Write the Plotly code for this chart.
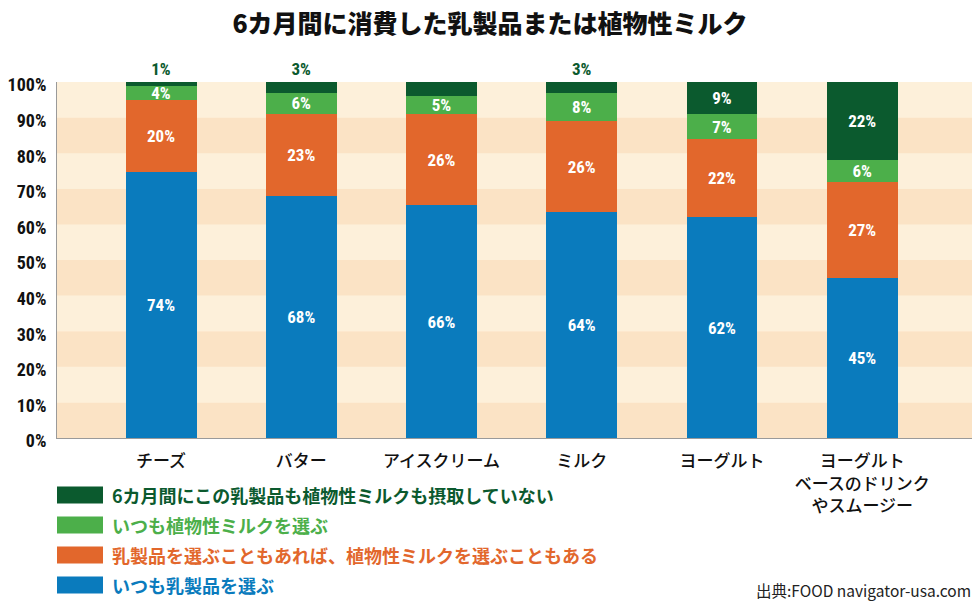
import plotly.graph_objects as go

# ---- data ----
categories = ["チーズ", "バター", "アイスクリーム", "ミルク", "ヨーグルト",
              "ヨーグルト<br>ベースのドリンク<br>やスムージー"]
always_dairy = [74, 68, 66, 64, 62, 45]
sometimes_both = [20, 23, 26, 26, 22, 27]
always_plant = [4, 6, 5, 8, 7, 6]
neither = [1, 3, 4, 3, 9, 22]

series_names = [
    "いつも乳製品を選ぶ",
    "乳製品を選ぶこともあれば、植物性ミルクを選ぶこともある",
    "いつも植物性ミルクを選ぶ",
    "6カ月間にこの乳製品も植物性ミルクも摂取していない",
]
series_values = [always_dairy, sometimes_both, always_plant, neither]
series_colors = ["#0a7bbd", "#e2672c", "#4caf4a", "#0b5a2e"]

y_ticks = list(range(0, 101, 10))
y_tick_labels = [f"{t}%" for t in y_ticks]

title = "6カ月間に消費した乳製品または植物性ミルク"
source = "出典:FOOD navigator-usa.com"

# ---- figure ----
totals = [sum(v) for v in zip(*series_values)]
NUM_FONT = "Liberation Sans Narrow, Roboto Condensed, Roboto, Arial Narrow, sans-serif"
JP_FONT = "Noto Sans CJK JP, sans-serif"

# page body has an 8px margin: work in reference pixel coordinates, shift by OFF
OFF = 8
FIG_W, FIG_H = 980 - OFF, 612 - OFF
L, T, R, B = 57, 82, 973, 438   # plot area in reference pixels
H = B - T
W = R - L

def px(x):
    return (x - L) / W

def py(y):
    return (B - y) / H

fig = go.Figure()
for name, vals, col in zip(series_names, series_values, series_colors):
    scaled = [v / t * 100 for v, t in zip(vals, totals)]
    is_top = name == series_names[-1]
    positions = ["outside" if (is_top and v < 5) else "inside" for v in vals]
    colors = [col if p == "outside" else "white" for p in positions]
    fig.add_trace(go.Bar(
        x=categories, y=scaled, name=name,
        marker=dict(color=col, line=dict(width=0)),
        text=[f"{v}%" for v in vals],
        textposition=positions,
        textangle=0,
        insidetextanchor="middle",
        constraintext="none",
        cliponaxis=False,
        textfont=dict(family=NUM_FONT, size=17, color=colors, weight="bold"),
        showlegend=False,
        hoverinfo="skip",
    ))

# background bands
band_light = "#fdf0da"
band_dark = "#fbe3c5"
for i in range(10):
    fig.add_shape(type="rect", xref="paper", yref="y", x0=0, x1=1,
                  y0=y_ticks[i], y1=y_ticks[i + 1], layer="below",
                  line=dict(width=0),
                  fillcolor=band_dark if i % 2 == 0 else band_light)

# manual legend (top-to-bottom: reversed series order)
for k, idx in enumerate(reversed(range(len(series_names)))):
    cy = 495 + 30 * k
    fig.add_shape(type="rect", xref="paper", yref="paper",
                  x0=px(57), x1=px(103), y0=py(cy - 8.5), y1=py(cy + 8.5),
                  fillcolor=series_colors[idx], line=dict(width=0))
    fig.add_annotation(xref="paper", yref="paper", x=px(110), y=py(cy),
                       xanchor="left", yanchor="middle", showarrow=False,
                       text=series_names[idx],
                       font=dict(family=JP_FONT, size=18, color=series_colors[idx], weight="bold"))

fig.add_annotation(xref="paper", yref="paper", x=px(973), y=py(590),
                   xanchor="right", yanchor="middle", showarrow=False,
                   text=source, font=dict(family=JP_FONT, size=15.5, color="#222222"))

fig.update_layout(
    width=FIG_W, height=FIG_H,
    margin=dict(l=L - OFF, r=FIG_W - (R - OFF), t=T - OFF, b=FIG_H - (B - OFF),
                autoexpand=False),
    paper_bgcolor="white", plot_bgcolor=band_light,
    barmode="stack", bargap=0.494,
    title=dict(text=title, x=(490 - OFF) / FIG_W, xanchor="center", xref="container",
               y=1 - (24 - OFF) / FIG_H, yanchor="middle", yref="container",
               font=dict(family=JP_FONT, size=25, color="#111111", weight=900)),
    xaxis=dict(range=[-0.742, 5.79], showgrid=False, showline=True, automargin=False,
               linecolor="#9a9a9a", linewidth=1, ticks="", ticklabelstandoff=8,
               tickfont=dict(family=JP_FONT, size=17, color="#111111", weight=500)),
    yaxis=dict(range=[0, 100], tickvals=y_ticks, ticktext=y_tick_labels,
               showgrid=False, zeroline=False, showline=True, automargin=False,
               linecolor="#9a9a9a", linewidth=1, ticks="", ticklabelstandoff=6,
               ticklabelshift=3,
               tickfont=dict(family=NUM_FONT, size=18, color="#111111", weight="bold")),
)

fig.write_html("out.html")
